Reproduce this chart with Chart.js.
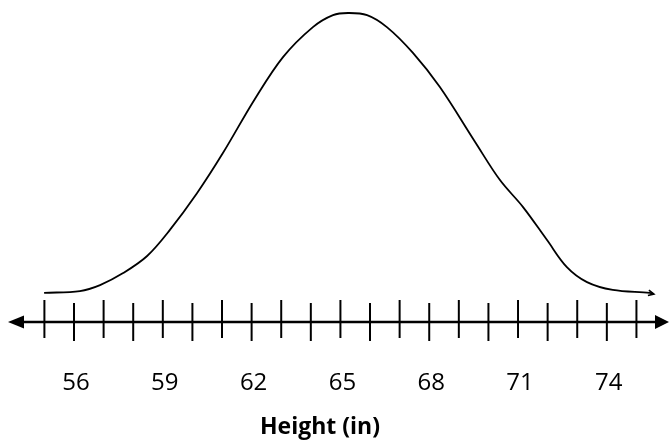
<!DOCTYPE html>
<html lang="en">
<head>
  <meta charset="UTF-8">
  <title>Height (in)</title>
  <script src="https://cdn.jsdelivr.net/npm/chart.js"></script>
  <style>
    html, body { margin: 0; padding: 0; background: #fff; }
    #wrap { width: 669px; height: 444px; }
  </style>
</head>
<body>
  <div id="wrap"><canvas id="myChart"></canvas></div>
  <script>
// height values (in) and relative curve height
const curveX = [54.99, 56.2, 56.88, 57.66, 58.47, 59.24, 60.16, 61.03, 62.09, 63.06, 64.07, 64.75, 65.26,
                65.9, 66.57, 67.45, 68.36, 69.55, 70.39, 71.17, 71.98, 72.65, 73.33, 74.2, 75.45, 75.59];
const curveY = [9.7, 10.3, 12.3, 16.3, 22, 30.7, 43, 56.3, 74, 88.3, 98.3, 102.3, 103,
                102.3, 98.3, 89.7, 78.3, 60, 47.3, 38.3, 27.3, 18.3, 13.3, 10.7, 9.7, 9.3];
const tickValues = [55, 56, 57, 58, 59, 60, 61, 62, 63, 64, 65, 66, 67, 68, 69, 70, 71, 72, 73, 74, 75];
const tickLabels = [56, 59, 62, 65, 68, 71, 74];
const axisTitle = 'Height (in)';

// number line, tick marks, labels and the little arrow at the end of the curve
const numberLine = {
  id: 'numberLine',
  afterDatasetsDraw(chart) {
    const ctx = chart.ctx;
    const x = chart.scales.x, y = chart.scales.y;
    const y0 = y.getPixelForValue(0);
    ctx.save();
    ctx.strokeStyle = '#000';
    ctx.fillStyle = '#000';

    // main line
    ctx.lineWidth = 2.6;
    ctx.beginPath();
    ctx.moveTo(18, y0);
    ctx.lineTo(chart.width - 10, y0);
    ctx.stroke();

    // arrow heads
    ctx.beginPath();
    ctx.moveTo(8, y0);
    ctx.lineTo(24, y0 - 6.5);
    ctx.lineTo(24, y0 + 6.5);
    ctx.closePath();
    ctx.fill();
    ctx.beginPath();
    ctx.moveTo(chart.width, y0);
    ctx.lineTo(chart.width - 14, y0 - 7);
    ctx.lineTo(chart.width - 14, y0 + 7);
    ctx.closePath();
    ctx.fill();

    // tick marks
    ctx.lineWidth = 2;
    tickValues.forEach((v, i) => {
      const px = x.getPixelForValue(v);
      const up = i % 2 ? 19 : 22;
      const down = i % 2 ? 19 : 16;
      ctx.beginPath();
      ctx.moveTo(px, y0 - up);
      ctx.lineTo(px, y0 + down);
      ctx.stroke();
    });

    // tick labels
    ctx.font = '24px "Open Sans", sans-serif';
    ctx.textAlign = 'center';
    ctx.textBaseline = 'middle';
    tickLabels.forEach(v => {
      ctx.fillText(String(v), x.getPixelForValue(v) + 2, y0 + 61);
    });

    // axis title
    ctx.font = 'bold 23px "Open Sans", sans-serif';
    ctx.fillText(axisTitle, 320, y0 + 105);

    // small hook at the end of the curve
    const n = curveX.length - 1;
    const ex = x.getPixelForValue(curveX[n]);
    const ey = y.getPixelForValue(curveY[n]);
    ctx.lineWidth = 1.6;
    ctx.beginPath();
    ctx.moveTo(ex - 5, ey - 4);
    ctx.lineTo(ex, ey);
    ctx.lineTo(ex - 6, ey + 1.5);
    ctx.stroke();
    ctx.restore();
  }
};

const ctx = document.getElementById('myChart').getContext('2d');
new Chart(ctx, {
  type: 'line',
  data: {
    datasets: [{
      data: curveX.map((v, i) => ({ x: v, y: curveY[i] })),
      borderColor: '#000',
      borderWidth: 1.8,
      pointRadius: 0,
      tension: 0.35,
      fill: false
    }]
  },
  options: {
    responsive: true,
    maintainAspectRatio: false,
    animation: false,
    layout: { padding: 0 },
    plugins: { legend: { display: false }, tooltip: { enabled: false } },
    scales: {
      x: { type: 'linear', min: 53.5, max: 76.1, display: false },
      y: { min: -40.67, max: 107.33, display: false }
    }
  },
  plugins: [numberLine]
});
  </script>
</body>
</html>
